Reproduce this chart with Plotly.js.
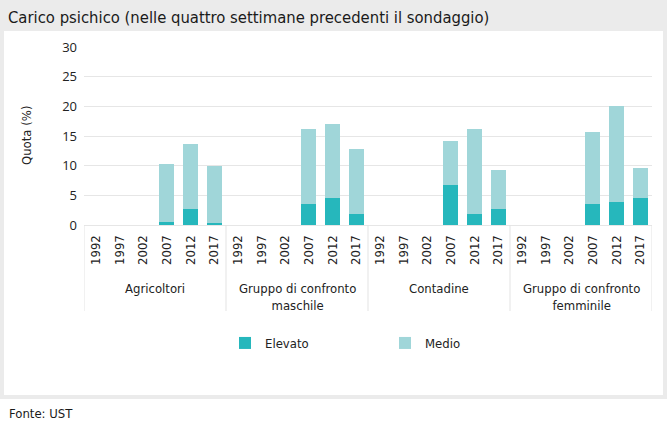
<!DOCTYPE html>
<html>
<head>
<meta charset="utf-8">
<script src="https://cdn.plot.ly/plotly-3.0.1.min.js"></script>
<style>
  html, body { margin: 0; padding: 0; background: #ffffff; }
  #chart { width: 668px; height: 422px; }
</style>
</head>
<body>
<div id="chart"></div>
<script>
// ---- data ----
const groups = ['Agricoltori', 'Gruppo di confronto<br>maschile', 'Contadine', 'Gruppo di confronto<br>femminile'];
const years = ['1992', '1997', '2002', '2007', '2012', '2017'];
const elevatoAgricoltori = [null, null, null, 0.5, 2.7, 0.3];
const elevatoMaschile    = [null, null, null, 3.5, 4.5, 1.9];
const elevatoContadine   = [null, null, null, 6.7, 1.9, 2.7];
const elevatoFemminile   = [null, null, null, 3.5, 3.8, 4.6];
const medioAgricoltori   = [null, null, null, 9.7, 10.9, 9.6];
const medioMaschile      = [null, null, null, 12.7, 12.5, 10.9];
const medioContadine     = [null, null, null, 7.4, 14.3, 6.6];
const medioFemminile     = [null, null, null, 12.1, 16.2, 5.0];
const yTicks = [0, 5, 10, 15, 20, 25, 30];

// ---- positions on the category scale: group index * years + year index ----
const nY = years.length;
const xPos = [], xText = [];
groups.forEach((g, gi) => years.forEach((y, yi) => { xPos.push(gi * nY + yi); xText.push(y); }));
const elevato = [].concat(elevatoAgricoltori, elevatoMaschile, elevatoContadine, elevatoFemminile);
const medio = [].concat(medioAgricoltori, medioMaschile, medioContadine, medioFemminile);

// ---- layout geometry (pixels) ----
const W = 668, H = 422;
const M = {l: 84, r: 16, t: 47, b: 197};
const pw = W - M.l - M.r, ph = H - M.t - M.b;
const px = x => (x - M.l) / pw;
const py = y => (H - M.b - y) / ph;

const condensed = 'DejaVu Sans Condensed, Liberation Sans Narrow, sans-serif';

const traces = [
  {type: 'bar', name: 'Elevato', x: xPos, y: elevato,
   marker: {color: '#26b7bc', line: {width: 0}}, hoverinfo: 'y'},
  {type: 'bar', name: 'Medio', x: xPos, y: medio,
   marker: {color: '#a0d6d9', line: {width: 0}}, hoverinfo: 'y'}
];

// group labels and dividers on the x scale
const groupAnn = groups.map((g, gi) => ({
  text: g, xref: 'x', yref: 'paper', x: gi * nY + (nY - 1) / 2, y: py(279),
  showarrow: false, xanchor: 'center', yanchor: 'top', align: 'center',
  font: {family: condensed, size: 13, color: '#222'}
}));
const dividers = [];
for (let gi = 0; gi <= groups.length; gi++) {
  dividers.push({type: 'line', xref: 'x', yref: 'paper', layer: 'above',
    x0: gi * nY - 0.5, x1: gi * nY - 0.5, y0: py(225), y1: py(311),
    line: {color: '#e3e3e3', width: 1}});
}

const layout = {
  width: W, height: H,
  margin: M,
  paper_bgcolor: '#ffffff',
  plot_bgcolor: 'rgba(0,0,0,0)',
  barmode: 'stack',
  bargap: 0.37,
  showlegend: true,
  title: {
    text: 'Carico psichico (nelle quattro settimane precedenti il sondaggio)',
    font: {family: condensed, size: 16.5, color: '#1a1a1a'},
    x: 8 / W, xref: 'container', xanchor: 'left',
    y: 1 - 17 / H, yref: 'container', yanchor: 'middle'
  },
  xaxis: {
    range: [-0.5, groups.length * nY - 0.5],
    tickmode: 'array',
    tickvals: xPos,
    ticktext: xText,
    tickangle: -90,
    tickfont: {family: condensed, size: 13, color: '#222'},
    ticks: 'outside',
    ticklen: 4,
    tickcolor: 'rgba(0,0,0,0)',
    showgrid: false,
    zeroline: false,
    showline: false,
    automargin: false,
    fixedrange: true
  },
  yaxis: {
    range: [0, 30],
    tickvals: yTicks,
    ticktext: yTicks.map(String),
    tickfont: {family: 'Open Sans, sans-serif', size: 13, color: '#222'},
    showgrid: true,
    gridcolor: '#e6e6e6',
    gridwidth: 1,
    zeroline: true,
    zerolinecolor: '#e6e6e6',
    zerolinewidth: 1,
    showline: false,
    ticks: '',
    ticklabelstandoff: 6,
    automargin: false,
    fixedrange: true
  },
  legend: {
    orientation: 'h',
    x: px(225), xanchor: 'left',
    y: py(343), yanchor: 'middle',
    traceorder: 'normal',
    font: {family: condensed, size: 13, color: '#222'},
    entrywidth: 115, entrywidthmode: 'pixels',
    bgcolor: 'rgba(0,0,0,0)'
  },
  shapes: [
    {type: 'rect', xref: 'paper', yref: 'paper', layer: 'below',
     x0: px(0), x1: px(667), y0: py(0), y1: py(399),
     fillcolor: '#ebebeb', line: {width: 0}},
    {type: 'rect', xref: 'paper', yref: 'paper', layer: 'below',
     x0: px(4), x1: px(663), y0: py(31), y1: py(395),
     fillcolor: '#ffffff', line: {width: 0}}
  ].concat(dividers),
  annotations: [
    {text: 'Quota (%)', xref: 'paper', yref: 'paper', x: px(26), y: py(136),
     textangle: -90, showarrow: false, xanchor: 'center', yanchor: 'middle',
     font: {family: condensed, size: 13, color: '#222'}},
    {text: 'Fonte: UST', xref: 'paper', yref: 'paper', x: px(7), y: py(413),
     showarrow: false, xanchor: 'left', yanchor: 'middle',
     font: {family: condensed, size: 13, color: '#1a1a1a'}}
  ].concat(groupAnn)
};

Plotly.newPlot('chart', traces, layout, {displayModeBar: false, staticPlot: true});
</script>
</body>
</html>
